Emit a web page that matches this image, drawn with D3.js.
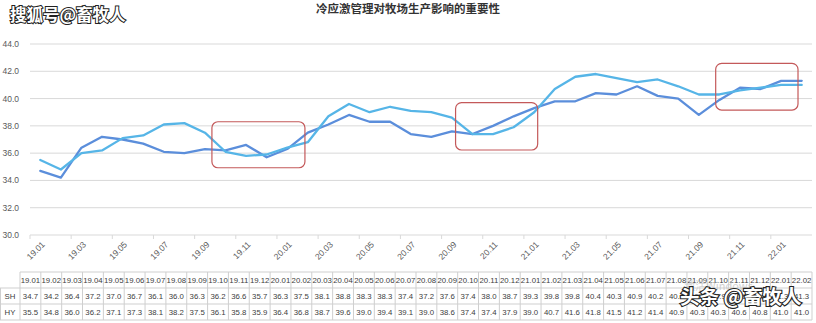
<!DOCTYPE html>
<html><head><meta charset="utf-8">
<script src="https://cdn.jsdelivr.net/npm/d3@7"></script>
<style>
html,body{margin:0;padding:0;background:#fff;}
svg{display:block;}
</style></head>
<body>
<svg id="chart" width="816" height="323"></svg>
<script>
const title = "冷应激管理对牧场生产影响的重要性";
const categories = ["19.01","19.02","19.03","19.04","19.05","19.06","19.07","19.08","19.09","19.10","19.11","19.12",
  "20.01","20.02","20.03","20.04","20.05","20.06","20.07","20.08","20.09","20.10","20.11","20.12",
  "21.01","21.02","21.03","21.04","21.05","21.06","21.07","21.08","21.09","21.10","21.11","21.12",
  "22.01","22.02"];
const seriesSH = [34.7,34.2,36.4,37.2,37.0,36.7,36.1,36.0,36.3,36.2,36.6,35.7,
  36.3,37.5,38.1,38.8,38.3,38.3,37.4,37.2,37.6,37.4,38.0,38.7,
  39.3,39.8,39.8,40.4,40.3,40.9,40.2,40.0,38.8,39.9,40.8,40.7,
  41.3,41.3];
const seriesHY = [35.5,34.8,36.0,36.2,37.1,37.3,38.1,38.2,37.5,36.1,35.8,35.9,
  36.4,36.8,38.7,39.6,39.0,39.4,39.1,39.0,38.6,37.4,37.4,37.9,
  39.0,40.7,41.6,41.8,41.5,41.2,41.4,40.9,40.3,40.3,40.6,40.8,
  41.0,41.0];
const seriesNames = ["SH","HY"];
const yTicks = [30,32,34,36,38,40,42,44];
// highlight boxes: category index range (fractional) and value range
const boxes = [
  {i0: 8.34, i1: 12.86, vTop: 38.3, vBottom: 34.93},
  {i0: 20.18, i1: 24.17, vTop: 39.7, vBottom: 36.23},
  {i0: 32.82, i1: 36.82, vTop: 42.58, vBottom: 39.16}
];

(function(){
const svg = d3.select("#chart");
const colors = {SH: "#5b8edb", HY: "#56b5e7"};
const pLeft = 30, pRight = 812, pTop = 44, pBottom = 235;

const x = d3.scaleBand().domain(categories).range([pLeft, pRight]).padding(0);
const bw = x.bandwidth();
const xi = d3.scaleLinear().domain([0, categories.length - 1]).range([pLeft + bw/2, pRight - bw/2]);
const y = d3.scaleLinear().domain([30, 44]).range([pBottom, pTop]);

// title
svg.append("text").attr("x", 408).attr("y", 13).attr("text-anchor","middle")
  .attr("font-family","'Noto Sans CJK SC', sans-serif").attr("font-weight","bold")
  .attr("font-size", 11.5).attr("fill","#333").text(title);

// gridlines
svg.append("g").selectAll("line").data(yTicks).join("line")
  .attr("x1", pLeft).attr("x2", pRight).attr("y1", d => y(d)).attr("y2", d => y(d))
  .attr("stroke", "#d9d9d9").attr("stroke-width", 1);

// y labels
svg.append("g").selectAll("text").data(yTicks).join("text")
  .attr("x", 19).attr("y", d => y(d)).attr("dy","0.35em").attr("text-anchor","end")
  .attr("font-family","'Liberation Sans', sans-serif").attr("font-size", 8.5).attr("fill","#595959")
  .text(d => d.toFixed(1));

// x ticks (every 2 categories, at band start)
const tickCats = categories.filter((c, i) => i % 2 === 0);
svg.append("g").selectAll("line").data(tickCats).join("line")
  .attr("x1", d => x(d)).attr("x2", d => x(d)).attr("y1", pBottom).attr("y2", pBottom + 4)
  .attr("stroke", "#d9d9d9");

// x labels
svg.append("g").selectAll("text").data(tickCats).join("text")
  .attr("transform", d => `translate(${x(d) + bw/2 + 3},${pBottom + 8}) rotate(-45)`)
  .attr("text-anchor","end").attr("dy","0.35em")
  .attr("font-family","'Liberation Sans', sans-serif").attr("font-size", 8.5).attr("fill","#595959")
  .text(d => d);

// lines
const line = d3.line().x((d, i) => x(categories[i]) + bw/2).y(d => y(d));
[["SH", seriesSH], ["HY", seriesHY]].forEach(([name, vals]) => {
  svg.append("path").datum(vals).attr("d", line).attr("fill","none")
    .attr("stroke", colors[name]).attr("stroke-width", 2.3).attr("stroke-linejoin","round").attr("stroke-linecap","round");
});

// highlight boxes
svg.append("g").selectAll("rect").data(boxes).join("rect")
  .attr("x", d => xi(d.i0)).attr("y", d => y(d.vTop))
  .attr("width", d => xi(d.i1) - xi(d.i0)).attr("height", d => y(d.vBottom) - y(d.vTop))
  .attr("rx", 6).attr("ry", 6).attr("fill","none").attr("stroke","#c4595a").attr("stroke-width", 1.2);

// data table
const tTop = 272, rowH = 16, tLeft = 20, tRight = 812;
const cw = (tRight - tLeft) / categories.length;
const tg = svg.append("g");
const gridColor = "#cfcfcf";
tg.append("line").attr("x1", tLeft).attr("x2", tRight).attr("y1", tTop).attr("y2", tTop).attr("stroke", gridColor);
[1,2,3].forEach(r => tg.append("line").attr("x1", 0).attr("x2", tRight)
  .attr("y1", tTop + r*rowH).attr("y2", tTop + r*rowH).attr("stroke", gridColor));
d3.range(categories.length + 1).forEach(k => tg.append("line")
  .attr("x1", tLeft + k*cw).attr("x2", tLeft + k*cw).attr("y1", tTop).attr("y2", tTop + 3*rowH).attr("stroke", gridColor));
tg.append("line").attr("x1", 0.5).attr("x2", 0.5).attr("y1", tTop + rowH).attr("y2", tTop + 3*rowH).attr("stroke", gridColor);

const tf = "'Liberation Sans', sans-serif";
tg.selectAll("text.h").data(categories).join("text").attr("class","h")
  .attr("x", (d, i) => tLeft + i*cw + cw/2).attr("y", tTop + rowH/2).attr("dy","0.35em")
  .attr("text-anchor","middle").attr("font-family", tf).attr("font-size", 7.8).attr("fill","#404040").text(d => d);
[["SH", seriesSH], ["HY", seriesHY]].forEach(([name, vals], r) => {
  const yy = tTop + (r + 1)*rowH + rowH/2;
  tg.append("text").attr("x", 10).attr("y", yy).attr("dy","0.35em").attr("text-anchor","middle")
    .attr("font-family", tf).attr("font-size", 7.8).attr("fill","#404040").text(name);
  tg.selectAll("text.v" + r).data(vals).join("text").attr("class","v" + r)
    .attr("x", (d, i) => tLeft + i*cw + cw/2).attr("y", yy).attr("dy","0.35em")
    .attr("text-anchor","middle").attr("font-family", tf).attr("font-size", 7.8).attr("fill","#404040")
    .text(d => d.toFixed(1));
});

// watermarks
svg.append("text").attr("x", 684).attr("y", 290)
  .attr("font-family","'Noto Sans CJK SC', sans-serif").attr("font-size", 11).attr("fill","#c8c8c8").attr("opacity",0.8)
  .text("激活Windows");
svg.append("text").attr("x", 10).attr("y", 21)
  .attr("font-family","'Noto Sans CJK SC', sans-serif").attr("font-size", 16.5).attr("font-weight","bold")
  .attr("fill","#fff").attr("stroke","#222").attr("stroke-width", 2).attr("paint-order","stroke")
  .text("搜狐号@畜牧人");
svg.append("text").attr("x", 680).attr("y", 304)
  .attr("font-family","'Noto Sans CJK SC', sans-serif").attr("font-size", 19.5).attr("font-weight","bold")
  .attr("fill","#fff").attr("stroke","#222").attr("stroke-width", 2.2).attr("paint-order","stroke")
  .text("头条 @畜牧人");
})();
</script>
</body></html>
